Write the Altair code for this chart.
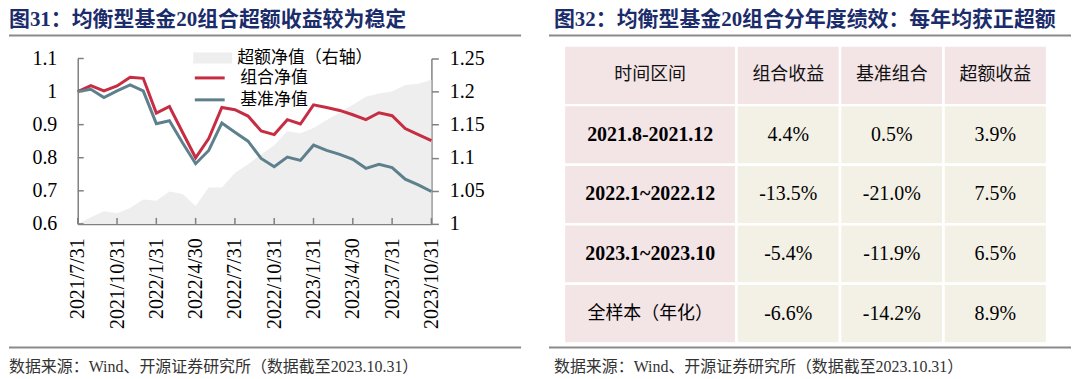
import altair as alt
import pandas as pd

# ---------------- data ----------------
dates = ["2021/7/31", "2021/8/31", "2021/9/30", "2021/10/31", "2021/11/30", "2021/12/31",
         "2022/1/31", "2022/2/28", "2022/3/31", "2022/4/30", "2022/5/31", "2022/6/30",
         "2022/7/31", "2022/8/31", "2022/9/30", "2022/10/31", "2022/11/30", "2022/12/31",
         "2023/1/31", "2023/2/28", "2023/3/31", "2023/4/30", "2023/5/31", "2023/6/30",
         "2023/7/31", "2023/8/31", "2023/9/30", "2023/10/31"]
portfolio = [1.000, 1.018, 1.002, 1.017, 1.043, 1.040, 0.935, 0.955, 0.877, 0.800,
             0.858, 0.952, 0.945, 0.926, 0.881, 0.870, 0.915, 0.902, 0.960, 0.952,
             0.943, 0.930, 0.915, 0.936, 0.927, 0.888, 0.870, 0.852]
benchmark = [1.000, 1.007, 0.982, 1.002, 1.020, 1.002, 0.903, 0.912, 0.845, 0.782,
             0.822, 0.905, 0.877, 0.850, 0.798, 0.773, 0.802, 0.792, 0.838, 0.822,
             0.810, 0.795, 0.768, 0.780, 0.770, 0.735, 0.718, 0.698]
excess = [1.000, 1.010, 1.019, 1.016, 1.024, 1.037, 1.035, 1.049, 1.045, 1.027,
          1.055, 1.055, 1.077, 1.090, 1.105, 1.119, 1.140, 1.137, 1.145, 1.157,
          1.168, 1.180, 1.192, 1.197, 1.200, 1.210, 1.212, 1.218]
tick_dates = dates[::3]
left_ticks = [0.6, 0.7, 0.8, 0.9, 1.0, 1.1]
right_ticks = [1.0, 1.05, 1.1, 1.15, 1.2, 1.25]

series_names = ["组合净值", "基准净值"]
area_name = "超额净值（右轴）"

headers = ["时间区间", "组合收益", "基准组合", "超额收益"]
periods = ["2021.8-2021.12", "2022.1~2022.12", "2023.1~2023.10", "全样本（年化）"]
port_ret = [0.044, -0.135, -0.054, -0.066]
bench_ret = [0.005, -0.210, -0.119, -0.142]
excess_ret = [0.039, 0.075, 0.065, 0.089]

title_left = "图31：均衡型基金20组合超额收益较为稳定"
title_right = "图32：均衡型基金20组合分年度绩效：每年均获正超额"
source_text = "数据来源：Wind、开源证券研究所（数据截至2023.10.31）"

# ---------------- style ----------------
SERIF = "Liberation Serif"
CJK = "Noto Sans CJK SC"
MIX = "Liberation Serif, Noto Sans CJK SC"
NAVY = "#1B2C6B"
GRAY = "#808080"
RULE = "#8A8A8A"
RED = "#C62D42"
BLUE = "#5E808C"
AREA = "#EEEEEE"
PINK = "#F3E4E6"
BEIGE = "#F3F1E6"

W, H = 355, 166

# ---------------- left panel ----------------
x_scale = alt.Scale(domain=dates, type="point", padding=0)
x_axis = alt.Axis(values=tick_dates, labelAngle=270, labelFont=SERIF, labelFontSize=20,
                  labelColor="#000", ticks=False, labelPadding=14, domainColor=GRAY,
                  domainWidth=1.5, grid=False, title=None)
yl_scale = alt.Scale(domain=[0.6, 1.1], nice=False, zero=False)
yl_axis = alt.Axis(orient="left", values=left_ticks, format=".1~f", ticks=False,
                   labelPadding=21, labelFont=SERIF, labelFontSize=20, labelColor="#000",
                   domainColor=GRAY, domainWidth=1.5, grid=False, title=None)
yr_scale = alt.Scale(domain=[1.0, 1.25], nice=False, zero=False)
yr_axis = alt.Axis(orient="right", values=right_ticks, format=".2~f", tickSize=7,
                   tickColor=GRAY, tickWidth=1.5, labelPadding=11, labelFont=SERIF,
                   labelFontSize=20, labelColor="#000", domainColor=GRAY, domainWidth=1.5,
                   grid=False, title=None)

area_df = pd.DataFrame({"date": dates, "v": excess, "k": area_name})
area = alt.Chart(area_df).mark_area(opacity=1).encode(
    x=alt.X("date:O", scale=x_scale, axis=x_axis),
    y=alt.Y("v:Q", scale=yr_scale, axis=yr_axis),
    y2=alt.datum(1.0),
    fill=alt.Fill("k:N", scale=alt.Scale(domain=[area_name], range=[AREA]),
                  legend=alt.Legend(orient="none", legendX=116, legendY=-20, title=None,
                                    symbolType="M-1,-0.28H1V0.28H-1Z", symbolSize=1521,
                                    symbolStrokeWidth=0, labelFont=CJK, labelFontSize=17,
                                    labelColor="#000", labelOffset=5, labelLimit=400)),
)

line_df = pd.DataFrame({
    "date": dates + dates,
    "v": portfolio + benchmark,
    "s": [series_names[0]] * len(dates) + [series_names[1]] * len(dates),
})
lines = alt.Chart(line_df).mark_line(strokeWidth=3).encode(
    x=alt.X("date:O", scale=x_scale, axis=x_axis),
    y=alt.Y("v:Q", scale=yl_scale, axis=yl_axis),
    stroke=alt.Stroke("s:N", scale=alt.Scale(domain=series_names, range=[RED, BLUE]),
                      legend=alt.Legend(orient="none", legendX=121, legendY=8, title=None,
                                        symbolType="M-1.5,0H1.5", symbolSize=400,
                                        symbolStrokeWidth=3, symbolFillColor="transparent",
                                        labelFont=CJK, labelFontSize=17,
                                        labelColor="#000", labelOffset=19, rowPadding=2,
                                        labelLimit=400)),
)

lt = alt.Chart(pd.DataFrame({"v": left_ticks})).mark_rule(color=GRAY, strokeWidth=1.5).encode(
    y=alt.Y("v:Q", scale=yl_scale, axis=yl_axis), x=alt.value(0), x2=alt.value(6))
bt = alt.Chart(pd.DataFrame({"date": tick_dates})).mark_rule(color=GRAY, strokeWidth=1.5).encode(
    x=alt.X("date:O", scale=x_scale, axis=x_axis), y=alt.value(H), y2=alt.value(H - 6))

one_l = pd.DataFrame({"t": [title_left], "s": [source_text]})
l_title = alt.Chart(one_l).mark_text(align="left", baseline="middle", font=MIX, fontSize=21,
                                     fontWeight="bold", color=NAVY).encode(
    text="t:N", x=alt.value(-69), y=alt.value(-39))
l_src = alt.Chart(one_l).mark_text(align="left", baseline="middle", font=MIX, fontSize=16,
                                   color="#333").encode(
    text="s:N", x=alt.value(-69), y=alt.value(310))
l_rule_top = alt.Chart(one_l).mark_rule(color=RULE, strokeWidth=2).encode(
    x=alt.value(-69), x2=alt.value(445), y=alt.value(-23))
l_rule_bot = alt.Chart(one_l).mark_rule(color=RULE, strokeWidth=2).encode(
    x=alt.value(-69), x2=alt.value(445), y=alt.value(290))

left = alt.layer(
    area,
    alt.layer(lines, lt, bt),
    l_title, l_src, l_rule_top, l_rule_bot,
).resolve_scale(y="independent").properties(width=W, height=H)

# ---------------- right panel (table) ----------------
col_units = [5, 3, 3, 3]
row_keys = ["h", "r1", "r2", "r3", "r4"]
edges = [0]
for u in col_units:
    edges.append(edges[-1] + u)

cells = []
for ri, rk in enumerate(row_keys):
    for ci in range(4):
        cells.append({"row": rk, "x0": edges[ci], "x1": edges[ci + 1],
                      "xc": (edges[ci] + edges[ci + 1]) / 2,
                      "kind": "pink" if (ri == 0 or ci == 0) else "beige"})
cells_df = pd.DataFrame(cells)

tx_scale = alt.Scale(domain=[0, edges[-1]], nice=False, zero=True)
ty_scale = alt.Scale(domain=row_keys, range=[-13, 286], paddingInner=0, paddingOuter=0)

rects = alt.Chart(cells_df).mark_rect(stroke="white", strokeWidth=2.5).encode(
    x=alt.X("x0:Q", scale=tx_scale, axis=None), x2="x1:Q",
    y=alt.Y("row:O", scale=ty_scale, axis=None),
    color=alt.Color("kind:N", scale=alt.Scale(domain=["pink", "beige"], range=[PINK, BEIGE]),
                    legend=None),
)

centers = [(edges[i] + edges[i + 1]) / 2 for i in range(4)]
head_df = pd.DataFrame({"xc": centers, "row": "h", "t": headers})
head_txt = alt.Chart(head_df).mark_text(font=CJK, fontSize=18, color="#111").encode(
    x=alt.X("xc:Q", scale=tx_scale, axis=None), y=alt.Y("row:O", scale=ty_scale, axis=None),
    text="t:N")

per_df = pd.DataFrame({"xc": centers[0], "row": row_keys[1:], "t": periods,
                       "bold": [True, True, True, False]})
per_bold = alt.Chart(per_df).transform_filter("datum.bold").mark_text(
    font=SERIF, fontSize=20, fontWeight="bold", color="#000").encode(
    x=alt.X("xc:Q", scale=tx_scale, axis=None), y=alt.Y("row:O", scale=ty_scale, axis=None),
    text="t:N")
per_norm = alt.Chart(per_df).transform_filter("!datum.bold").mark_text(
    font=CJK, fontSize=18, color="#000").encode(
    x=alt.X("xc:Q", scale=tx_scale, axis=None), y=alt.Y("row:O", scale=ty_scale, axis=None),
    text="t:N")

val_rows = []
for ci, vals in enumerate([port_ret, bench_ret, excess_ret], start=1):
    for ri, v in enumerate(vals):
        val_rows.append({"xc": centers[ci], "row": row_keys[ri + 1], "v": v})
val_df = pd.DataFrame(val_rows)
val_txt = alt.Chart(val_df).transform_calculate(
    lab="(datum.v < 0 ? '-' : '') + format(abs(datum.v), '.1%')").mark_text(
    font=SERIF, fontSize=20, color="#000").encode(
    x=alt.X("xc:Q", scale=tx_scale, axis=None), y=alt.Y("row:O", scale=ty_scale, axis=None),
    text="lab:N")

one_r = pd.DataFrame({"t": [title_right], "s": [source_text]})
r_title = alt.Chart(one_r).mark_text(align="left", baseline="middle", font=MIX, fontSize=21,
                                     fontWeight="bold", color=NAVY).encode(
    text="t:N", x=alt.value(-10), y=alt.value(-39))
r_src = alt.Chart(one_r).mark_text(align="left", baseline="middle", font=MIX, fontSize=16,
                                   color="#333").encode(
    text="s:N", x=alt.value(-10), y=alt.value(310))
r_rule_top = alt.Chart(one_r).mark_rule(color=RULE, strokeWidth=2).encode(
    x=alt.value(-15), x2=alt.value(509), y=alt.value(-23))
r_rule_bot = alt.Chart(one_r).mark_rule(color=RULE, strokeWidth=2).encode(
    x=alt.value(-15), x2=alt.value(509), y=alt.value(290))

right = alt.layer(rects, head_txt, per_bold, per_norm, val_txt,
                  r_title, r_src, r_rule_top, r_rule_bot).properties(width=485, height=H)

chart = alt.hconcat(left, right, spacing=26).resolve_scale(
    color="independent", fill="independent", stroke="independent", x="independent",
    y="independent").properties(padding=0).configure_view(stroke=None)

chart.save("out.html", embed_options={"renderer": "svg", "actions": False})
